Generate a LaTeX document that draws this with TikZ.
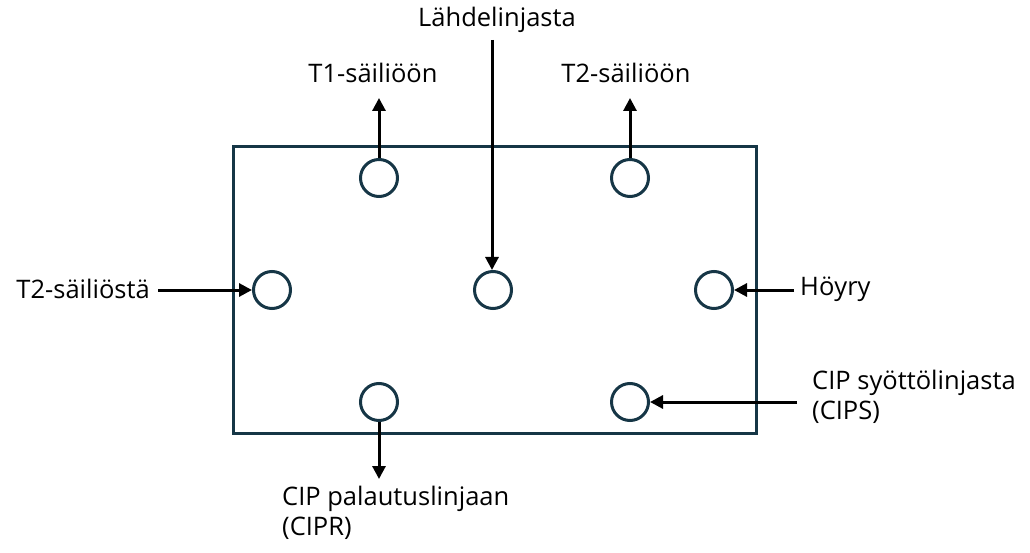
\documentclass[tikz,border=0pt]{standalone}
\usepackage{fontspec}
\setmainfont{Open Sans}
\usetikzlibrary{arrows.meta}
\definecolor{frame}{HTML}{163646}
\begin{document}
\begin{tikzpicture}[x=1pt,y=-1pt,
  port/.style={circle,draw=frame,line width=3pt,minimum size=37pt,inner sep=0pt},
  flow/.style={line width=3pt,-{Triangle[length=13pt,width=13pt]}},
  lbl/.style={font=\fontsize{25.5}{29.5}\selectfont,inner sep=0pt,align=left}]
\useasboundingbox (0,0) rectangle (1030,553);
\draw[frame,line width=3pt] (233,147) rectangle (756,433);
\node[port] (p1) at (379,178) {};
\node[port] (p2) at (630,178) {};
\node[port] (p3) at (272,290) {};
\node[port] (p4) at (493,290) {};
\node[port] (p5) at (714,290) {};
\node[port] (p6) at (379,402) {};
\node[port] (p7) at (630,402) {};
\node[lbl] (t1) at (373,73) {T1-säiliöön};
\node[lbl] (t2) at (626,73) {T2-säiliöön};
\node[lbl] (src) at (497,20) {Lähdelinjasta};
\node[lbl,anchor=east] (t2in) at (150,289) {T2-säiliöstä};
\node[lbl,anchor=west] (steam) at (800,289) {Höyry};
\node[lbl,anchor=west] (cips) at (812,397) {CIP syöttölinjasta\\(CIPS)};
\node[lbl,anchor=north west] (cipr) at (282,486) {CIP palautuslinjaan\\(CIPR)};
\coordinate (a1) at (379,98);
\coordinate (a2) at (630,98);
\coordinate (a3) at (492,40);
\coordinate (a4) at (158,290);
\coordinate (a5) at (794,290);
\coordinate (a6) at (797,402);
\coordinate (a7) at (379,479);
\draw[flow] (p1.north) -- (a1);
\draw[flow] (p2.north) -- (a2);
\draw[flow] (a3) -- (a3 |- p4.north);
\draw[flow] (a4) -- (p3.west);
\draw[flow] (a5) -- (p5.east);
\draw[flow] (a6) -- (p7.east);
\draw[flow] (p6.south) -- (a7);
\end{tikzpicture}
\end{document}
